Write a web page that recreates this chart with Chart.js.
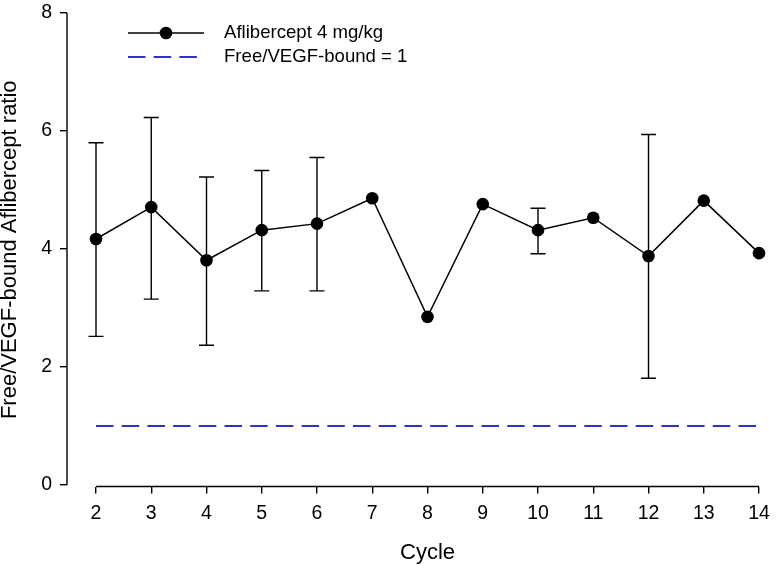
<!DOCTYPE html>
<html>
<head>
<meta charset="utf-8">
<script src="https://cdn.jsdelivr.net/npm/chart.js@4.4.1/dist/chart.umd.min.js"></script>
<style>
  html, body { margin: 0; padding: 0; background: #fff; }
  #wrap { width: 776px; height: 565px; }
</style>
</head>
<body>
<div id="wrap"><canvas id="Grafica" width="776" height="565"></canvas></div>
<script>
// data
const cycles = [2, 3, 4, 5, 6, 7, 8, 9, 10, 11, 12, 13, 14];
const ratioMean = [4.17, 4.71, 3.81, 4.32, 4.43, 4.86, 2.85, 4.76, 4.32, 4.53, 3.88, 4.82, 3.93];
const errHigh = [5.80, 6.23, 5.22, 5.33, 5.55, null, null, null, 4.69, null, 5.94, null, null];
const errLow  = [2.52, 3.15, 2.37, 3.29, 3.29, null, null, null, 3.92, null, 1.81, null, null];
const refValue = 1;
const yTicks = [0, 2, 4, 6, 8];
const seriesName = 'Aflibercept 4 mg/kg';
const refName = 'Free/VEGF-bound = 1';
const xTitle = 'Cycle';
const yTitle = 'Free/VEGF-bound Aflibercept ratio';

const blue = '#3232c8';
const dash = [17.5, 8.2];
const fam = '"Liberation Sans", Arial, Helvetica, sans-serif';
Chart.defaults.font.family = fam;
Chart.defaults.color = '#000';

// error bars under the points
const errorBars = {
    id: 'errorBars',
    beforeDatasetsDraw(chart) {
        const ctx = chart.ctx;
        const xs = chart.scales.x, ys = chart.scales.y;
        ctx.save();
        ctx.strokeStyle = '#000';
        ctx.lineWidth = 1.4;
        for (let i = 0; i < cycles.length; i++) {
            if (errHigh[i] === null) continue;
            let px = xs.getPixelForValue(cycles[i]);
            let top = ys.getPixelForValue(errHigh[i]);
            let bot = ys.getPixelForValue(errLow[i]);
            ctx.beginPath();
            ctx.moveTo(px, top); ctx.lineTo(px, bot);
            ctx.moveTo(px - 7.5, top); ctx.lineTo(px + 7.5, top);
            ctx.moveTo(px - 7.5, bot); ctx.lineTo(px + 7.5, bot);
            ctx.stroke();
        }
        ctx.restore();
    }
};

// R-style detached axis lines + x title centred on the data range
const axisLines = {
    id: 'axisLines',
    afterDraw(chart) {
        const ctx = chart.ctx;
        const xs = chart.scales.x, ys = chart.scales.y;
        ctx.save();
        ctx.strokeStyle = '#000';
        ctx.lineWidth = 1.4;
        let left = chart.chartArea.left, bottom = chart.chartArea.bottom;
        let x0 = xs.getPixelForValue(cycles[0]);
        let x1 = xs.getPixelForValue(cycles[cycles.length - 1]);
        ctx.beginPath();
        ctx.moveTo(left, ys.getPixelForValue(yTicks[0]));
        ctx.lineTo(left, ys.getPixelForValue(yTicks[yTicks.length - 1]));
        ctx.moveTo(x0, bottom);
        ctx.lineTo(x1, bottom);
        ctx.stroke();
        ctx.font = '22px ' + fam;
        ctx.fillStyle = '#000';
        ctx.textAlign = 'center';
        ctx.textBaseline = 'middle';
        ctx.fillText(xTitle, (x0 + x1) / 2, 553);
        ctx.restore();
    }
};

const customLegend = {
    id: 'customLegend',
    afterDraw(chart) {
        const ctx = chart.ctx;
        ctx.save();
        ctx.font = '18.6px ' + fam;
        ctx.fillStyle = '#000';
        ctx.textBaseline = 'middle';
        ctx.textAlign = 'left';
        // row 1
        ctx.strokeStyle = '#000';
        ctx.lineWidth = 1.5;
        ctx.beginPath(); ctx.moveTo(128, 33); ctx.lineTo(204, 33); ctx.stroke();
        ctx.beginPath(); ctx.arc(166, 33, 6.3, 0, Math.PI * 2); ctx.fill();
        ctx.fillText(seriesName, 224, 33);
        // row 2
        ctx.strokeStyle = blue;
        ctx.lineWidth = 1.8;
        ctx.setLineDash(dash);
        ctx.beginPath(); ctx.moveTo(128, 57); ctx.lineTo(197, 57); ctx.stroke();
        ctx.setLineDash([]);
        ctx.fillText(refName, 224, 57);
        ctx.restore();
    }
};

function noPad(s) {
    s.paddingLeft = 0; s.paddingRight = 0; s.paddingTop = 0; s.paddingBottom = 0;
}

let config = {
    'type': 'scatter',
    'data': {
        'datasets': [
            {
                'label': seriesName,
                'data': cycles.map((c, i) => ({x: c, y: ratioMean[i]})),
                'showLine': true,
                'borderColor': '#000',
                'backgroundColor': '#000',
                'borderWidth': 1.5,
                'pointRadius': 6.3,
                'pointBorderWidth': 0,
                'order': 0
            },
            {
                'label': refName,
                'data': [{x: cycles[0], y: refValue}, {x: cycles[cycles.length - 1], y: refValue}],
                'showLine': true,
                'borderColor': blue,
                'borderWidth': 1.8,
                'borderDash': dash,
                'pointRadius': 0,
                'order': 1
            }
        ]
    },
    'options': {
        'responsive': false,
        'animation': false,
        'layout': {'padding': {'top': 13, 'left': 0, 'right': 10, 'bottom': 0}},
        'plugins': {'legend': {'display': false}, 'tooltip': {'enabled': false}},
        'scales': {
            'x': {
                'type': 'linear',
                'min': 1.4751,
                'max': 14.1266,
                'afterBuildTicks': (s) => { s.ticks = cycles.map(v => ({value: v})); },
                'afterFit': (s) => { s.height = 78.5; noPad(s); },
                'border': {'display': false},
                'grid': {'drawOnChartArea': false, 'color': '#000', 'lineWidth': 1.4, 'tickLength': 7},
                'ticks': {'font': {'size': 19.5}, 'padding': 8, 'maxRotation': 0, 'autoSkip': false}
            },
            'y': {
                'min': -0.025,
                'max': 8,
                'afterBuildTicks': (s) => { s.ticks = yTicks.map(v => ({value: v})); },
                'afterFit': (s) => { s.width = 67; noPad(s); },
                'border': {'display': false},
                'grid': {'drawOnChartArea': false, 'color': '#000', 'lineWidth': 1.4, 'tickLength': 7},
                'ticks': {'font': {'size': 19.5}, 'padding': 8},
                'title': {'display': true, 'text': yTitle, 'font': {'size': 22, 'lineHeight': 0.93}, 'padding': {'top': 0, 'bottom': 0}}
            }
        }
    },
    'plugins': [errorBars, axisLines, customLegend]
};

new Chart(document.getElementById('Grafica').getContext('2d'), config);
</script>
</body>
</html>
